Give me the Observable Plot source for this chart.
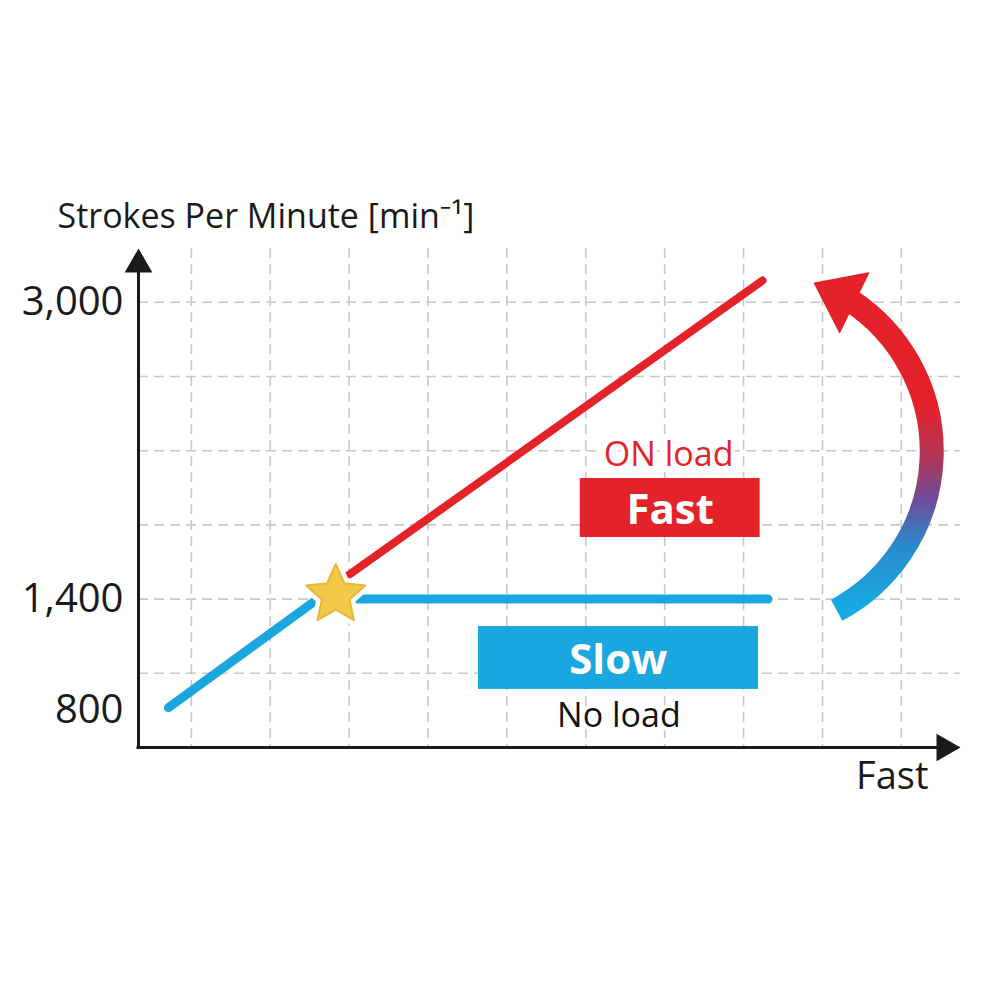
<!DOCTYPE html>
<html>
<head>
<meta charset="utf-8">
<script src="https://cdn.jsdelivr.net/npm/d3@7"></script>
<script src="https://cdn.jsdelivr.net/npm/@observablehq/plot@0.6"></script>
<style>
  body { margin: 0; background: #ffffff; }
</style>
</head>
<body>
<div id="chart"></div>
<script>
// ---------- data ----------
const yTickValues = [800, 1400, 3000];
const yGridValues = [1000, 1400, 1800, 2200, 2600, 3000];
const xGridValues = [1, 2, 3, 4, 5, 6, 7, 8, 9, 10];

// common (no load) rise up to the switch point
const riseSeries = [ {x: 0.71, y: 815}, {x: 2.60, y: 1400} ];
// no load: stays at 1,400
const noLoadSeries = [ {x: 2.95, y: 1400}, {x: 8.31, y: 1400} ];
// on load: rises to 3,000+
const onLoadSeries = [ {x: 2.95, y: 1516}, {x: 8.24, y: 3117} ];
// switch point (star)
const switchPoint = [ {x: 2.83, y: 1422} ];

// label boxes
const labelBoxes = [
  {name: "Fast", x1: 5.93, x2: 8.21, y1: 1732, y2: 2050, color: "#E42229"},
  {name: "Slow", x1: 4.64, x2: 8.19, y1: 913, y2: 1252, color: "#1AA6DE"}
];
const boxLabels = [
  {text: "Fast", x: 7.07, y: 1878},
  {text: "Slow", x: 6.41, y: 1069}
];
const loadLabels = [
  {text: "ON load", x: 7.05, y: 2175, color: "#E42229"},
  {text: "No load", x: 6.42, y: 767, color: "#111111"}
];

// curved switching arrow (from slow up to fast)
const switchArc = [ {x1: 9.18, y1: 1340, x2: 9.37, y2: 3005} ];
const switchArcHead = [ {x: 9.23, y: 3034} ];

const xDomain = [0.33, 10.75];
const yDomain = [600, 3290];

const titleText = "Strokes Per Minute [min\u207B\u00B9]";
const xLabelText = "Fast";

const RED = "#E42229";
const BLUE = "#1AA6DE";
const INK = "#1a1a1a";
const FONT = "'Open Sans', 'Noto Sans', sans-serif";

// custom wide arrowhead symbol (centroid at origin, pointing up)
const wideHead = {
  draw(ctx, size) {
    const u = Math.sqrt(size / Math.PI);
    ctx.moveTo(0, -1.45 * u);
    ctx.lineTo(1.65 * u, 0.75 * u);
    ctx.lineTo(-1.65 * u, 0.75 * u);
    ctx.closePath();
  }
};
// plump five-pointed star
const plumpStar = {
  draw(ctx, size) {
    const R = Math.sqrt(size / Math.PI);
    const ri = R * 0.47;
    for (let i = 0; i < 10; i++) {
      const a = -Math.PI / 2 + i * Math.PI / 5;
      const rr = i % 2 ? ri : R;
      if (i === 0) ctx.moveTo(rr * Math.cos(a), rr * Math.sin(a));
      else ctx.lineTo(rr * Math.cos(a), rr * Math.sin(a));
    }
    ctx.closePath();
  }
};

const svg = Plot.plot({
  width: 1000,
  height: 1000,
  marginLeft: 138,
  marginRight: 40,
  marginTop: 248,
  marginBottom: 253,
  style: {fontFamily: FONT, background: "#ffffff", color: INK},
  x: {domain: xDomain, axis: null},
  y: {domain: yDomain, axis: null},
  marks: [
    // dashed grid
    Plot.ruleX(xGridValues, {x: d => d, stroke: "#c8c8c8", strokeWidth: 1.6, strokeDasharray: "10,6"}),
    Plot.ruleY(yGridValues, {y: d => d, stroke: "#c8c8c8", strokeWidth: 1.6, strokeDasharray: "10,6"}),

    // axes
    Plot.ruleX([xDomain[0]], {x: d => d, y1: yDomain[0], y2: 3250, stroke: INK, strokeWidth: 3, strokeLinecap: "square"}),
    Plot.ruleY([yDomain[0]], {y: d => d, x1: xDomain[0], x2: 10.65, stroke: INK, strokeWidth: 3, strokeLinecap: "square"}),
    Plot.dot([0], {frameAnchor: "top-left", symbol: "triangle", r: 10.3, fill: INK, stroke: "none", dy: 16}),
    Plot.dot([0], {frameAnchor: "bottom-right", symbol: "triangle", r: 10.3, fill: INK, stroke: "none", rotate: 90, dx: -16}),

    // y tick labels
    Plot.text(yTickValues, {y: d => d, frameAnchor: "left", lineAnchor: "middle", text: d => d3.format(",")(d), textAnchor: "end", dx: -15, fontSize: 40, fill: INK}),

    // titles
    Plot.text([titleText], {frameAnchor: "top-left", lineAnchor: "middle", text: d => d, textAnchor: "start", dx: -81, dy: -31, fontSize: 34, fill: INK}),
    Plot.text([xLabelText], {frameAnchor: "bottom-right", lineAnchor: "middle", text: d => d, textAnchor: "end", dx: -32, dy: 29, fontSize: 38, fill: INK}),

    // series
    Plot.line(riseSeries, {x: "x", y: "y", stroke: BLUE, strokeWidth: 9, strokeLinecap: "round"}),
    Plot.line(noLoadSeries, {x: "x", y: "y", stroke: BLUE, strokeWidth: 9, strokeLinecap: "round"}),
    Plot.line(onLoadSeries, {x: "x", y: "y", stroke: RED, strokeWidth: 8, strokeLinecap: "round"}),

    // switch star with white halo
    Plot.dot(switchPoint, {x: "x", y: "y", symbol: plumpStar, r: 31, fill: "#ffffff", stroke: "#ffffff", strokeWidth: 11, strokeLinejoin: "round"}),
    Plot.dot(switchPoint, {x: "x", y: "y", symbol: plumpStar, r: 31, fill: "#F2C94A", stroke: "#E8B73A", strokeWidth: 2, strokeLinejoin: "round"}),

    // label boxes
    Plot.rect(labelBoxes, {x1: "x1", x2: "x2", y1: "y1", y2: "y2", fill: "color"}),
    Plot.text(boxLabels, {x: "x", y: "y", text: "text", fontSize: 42, fontWeight: "bold", fill: "#ffffff"}),
    Plot.text(loadLabels, {x: "x", y: "y", text: "text", fontSize: 34, fill: "color", stroke: "#ffffff", strokeWidth: 8}),

    // curved arrow
    Plot.arrow(switchArc, {x1: "x1", y1: "y1", x2: "x2", y2: "y2", bend: -59, headLength: 0, stroke: "url(#arcGrad)", strokeWidth: 24, strokeLinecap: "butt", strokeLinejoin: "round"}),
    Plot.dot(switchArcHead, {x: "x", y: "y", symbol: wideHead, r: 20, fill: RED, stroke: RED, strokeWidth: 1.5, strokeLinejoin: "round", rotate: -64})
  ]
});

// gradient for the curved arrow
const defs = d3.select(svg).insert("defs", ":first-child");
const grad = defs.append("linearGradient").attr("id", "arcGrad")
  .attr("x1", 0).attr("y1", 0).attr("x2", 0).attr("y2", 1);
[[0, "#E4222B"], [0.34, "#E4222B"], [0.5, "#B33556"], [0.65, "#6C4E9F"], [0.79, "#2A8ACB"], [1, "#16ABE2"]]
  .forEach(([o, c]) => grad.append("stop").attr("offset", o).attr("stop-color", c));

document.getElementById("chart").appendChild(svg);
</script>
</body>
</html>
